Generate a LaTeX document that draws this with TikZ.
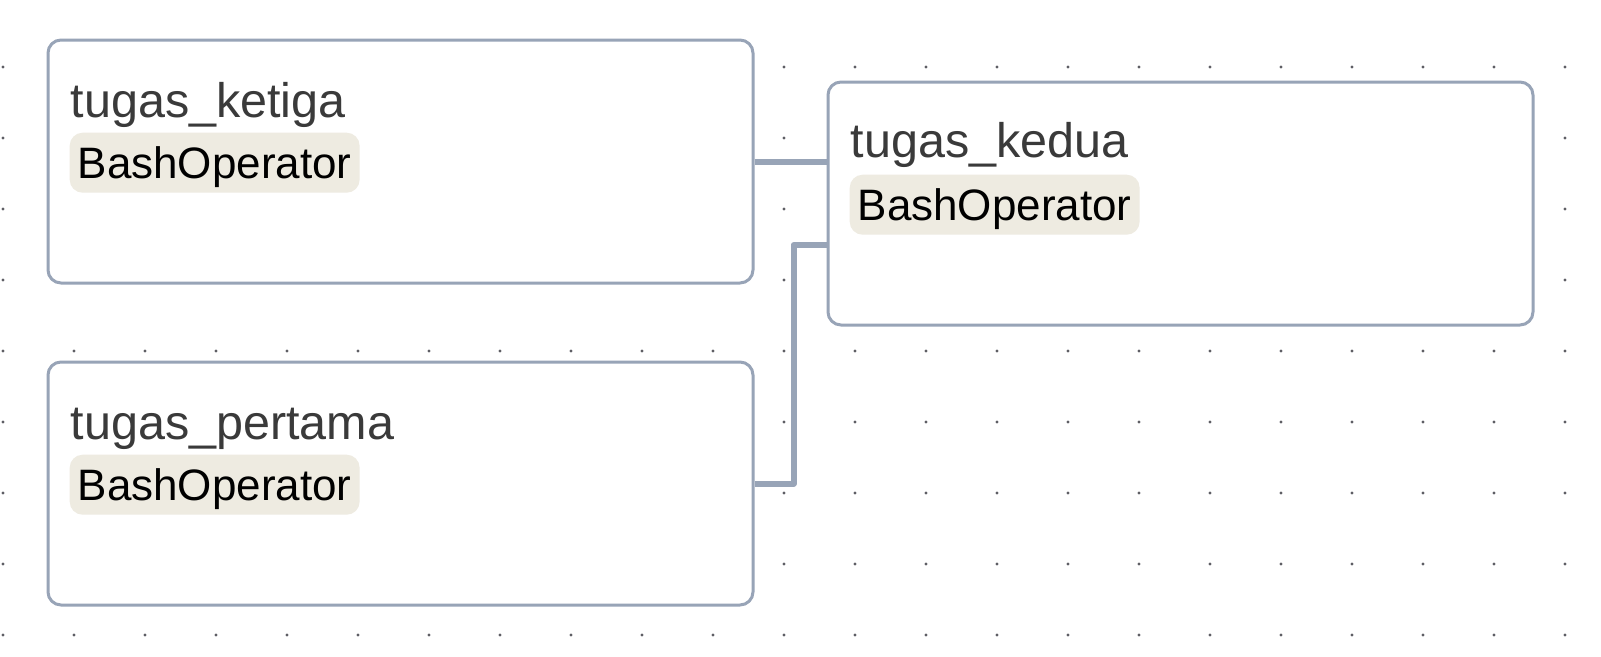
\documentclass[tikz,border=0pt]{standalone}
\usepackage{fontspec}
\setmainfont{Liberation Sans}
\usetikzlibrary{positioning}

\definecolor{edgeslate}{HTML}{98A4B7}
\definecolor{titlegray}{HTML}{3A3A3A}
\definecolor{badgebeige}{HTML}{EEEBE1}
\definecolor{dotgray}{HTML}{5E5E64}

\begin{document}
\begin{tikzpicture}[x=1pt, y=-1pt, line join=round,
taskbox/.style={draw=edgeslate, line width=3pt, fill=white, rounded corners=13pt,
  minimum width=705pt, minimum height=243pt, inner sep=0pt},
tasktitle/.style={inner sep=0pt, text=titlegray, font=\fontsize{48.5}{56}\selectfont},
opbadge/.style={fill=badgebeige, rounded corners=13pt, minimum height=60pt,
  text height=31pt, text depth=-2pt,
  inner xsep=8pt, inner ysep=0pt, text=black, font=\fontsize{44}{50}\selectfont},
link/.style={draw=edgeslate, line width=6pt},
griddot/.style={fill=dotgray}]
    \fill[white] (0,0) rectangle (1601,656);
    \useasboundingbox (0,0) rectangle (1601,656);

    % dotted canvas
    \foreach \i in {0,...,22}
      \foreach \j in {0,...,8}
        \fill[griddot] (3+71*\i, 67+71*\j) circle (1.7pt);

    \node[taskbox] (ketiga) at (400.5,161.5) {};
    \node[taskbox] (pertama) at (400.5,483.5) {};
    \node[taskbox] (kedua) at (1180.5,203.5) {};

    \node[tasktitle] [below right=79pt and 24pt of ketiga.north west, anchor=base west] (ketigaName) {tugas\_ketiga};
    \node[opbadge] [below right=94pt and 23pt of ketiga.north west] (ketigaOp) {BashOperator};
    \node[tasktitle] [below right=79pt and 24pt of pertama.north west, anchor=base west] (pertamaName) {tugas\_pertama};
    \node[opbadge] [below right=94pt and 23pt of pertama.north west] (pertamaOp) {BashOperator};
    \node[tasktitle] [below right=77pt and 24pt of kedua.north west, anchor=base west] (keduaName) {tugas\_kedua};
    \node[opbadge] [below right=94pt and 23pt of kedua.north west] (keduaOp) {BashOperator};

    \draw[link] (ketiga.east) -- (ketiga.east -| kedua.west);
    \draw[link] (pertama.east) -- ++(39,0) |- ([yshift=-41.5pt]kedua.west);
\end{tikzpicture}
\end{document}
